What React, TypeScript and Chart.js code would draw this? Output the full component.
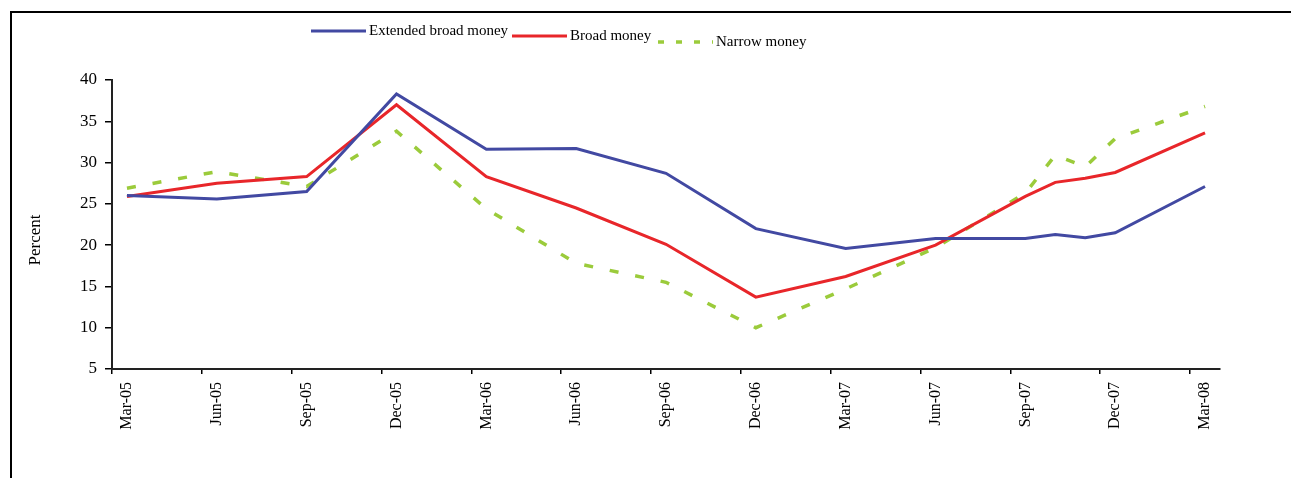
import React, { useEffect, useRef } from "react";
import { Chart, registerables } from "chart.js";

Chart.register(...registerables);

// All monthly categories on the x axis (Excel-style category axis)
const monthCategories = [
  "Mar-05", "Apr-05", "May-05", "Jun-05", "Jul-05", "Aug-05", "Sep-05", "Oct-05", "Nov-05", "Dec-05",
  "Jan-06", "Feb-06", "Mar-06", "Apr-06", "May-06", "Jun-06", "Jul-06", "Aug-06", "Sep-06", "Oct-06",
  "Nov-06", "Dec-06", "Jan-07", "Feb-07", "Mar-07", "Apr-07", "May-07", "Jun-07", "Jul-07", "Aug-07",
  "Sep-07", "Oct-07", "Nov-07", "Dec-07", "Jan-08", "Feb-08", "Mar-08",
];

// Tick labels shown (every quarter)
const tickLabels = [
  "Mar-05", "Jun-05", "Sep-05", "Dec-05", "Mar-06", "Jun-06", "Sep-06",
  "Dec-06", "Mar-07", "Jun-07", "Sep-07", "Dec-07", "Mar-08",
];

// Observation periods
const periods = [
  "Mar-05", "Jun-05", "Sep-05", "Dec-05", "Mar-06", "Jun-06", "Sep-06", "Dec-06",
  "Mar-07", "Jun-07", "Sep-07", "Oct-07", "Nov-07", "Dec-07", "Mar-08",
];

const extendedBroadMoney = [26.0, 25.6, 26.5, 38.3, 31.6, 31.7, 28.7, 22.0, 19.6, 20.8, 20.8, 21.3, 20.9, 21.5, 27.1];
const broadMoney = [25.9, 27.5, 28.3, 37.0, 28.3, 24.5, 20.1, 13.7, 16.2, 20.0, 25.9, 27.6, 28.1, 28.8, 33.6];
const narrowMoney = [26.9, 28.9, 27.1, 33.8, 24.4, 17.8, 15.5, 10.0, 14.7, 19.7, 26.3, 30.9, 29.5, 32.9, 36.8];

const seriesNames = ["Extended broad money", "Broad money", "Narrow money"];
const yAxisTitle = "Percent";

const FONT = "'Liberation Serif', 'Times New Roman', serif";

// legend item placement (Excel staggered legend)
const legendSpots = [
  { x: 311, y: 31 },
  { x: 512, y: 36 },
  { x: 658, y: 42 },
];

const decorPlugin = {
  id: "staggeredLegend",
  afterDraw(chart: any) {
    const ctx = chart.ctx;
    ctx.save();
    chart.data.datasets.forEach((ds: any, i: number) => {
      const p = legendSpots[i];
      ctx.beginPath();
      ctx.lineWidth = ds.borderWidth;
      ctx.strokeStyle = ds.borderColor;
      ctx.lineCap = "butt";
      ctx.setLineDash(ds.borderDash ? [6, 12] : []);
      ctx.moveTo(p.x, p.y);
      ctx.lineTo(p.x + 55, p.y);
      ctx.stroke();
      ctx.setLineDash([]);
      ctx.fillStyle = "#000";
      ctx.font = `15px ${FONT}`;
      ctx.textBaseline = "middle";
      ctx.textAlign = "left";
      ctx.fillText(ds.label, p.x + 58, p.y);
    });
    // y-axis title
    ctx.translate(36, 240);
    ctx.rotate(-Math.PI / 2);
    ctx.font = `17px ${FONT}`;
    ctx.textAlign = "center";
    ctx.textBaseline = "middle";
    ctx.fillStyle = "#000";
    ctx.fillText(yAxisTitle, 0, 0);
    ctx.restore();
  },
};

export default function App() {
  const ref = useRef<HTMLCanvasElement | null>(null);

  useEffect(() => {
    if (!ref.current) return;
    const toPoints = (vals: number[]) => periods.map((p, i) => ({ x: p, y: vals[i] }));
    const chart = new Chart(ref.current, {
      type: "line",
      data: {
        labels: monthCategories,
        datasets: [
          {
            label: seriesNames[0],
            data: toPoints(extendedBroadMoney),
            borderColor: "#4249A2",
            backgroundColor: "#4249A2",
            borderWidth: 3,
            pointRadius: 0,
            tension: 0,
          },
          {
            label: seriesNames[1],
            data: toPoints(broadMoney),
            borderColor: "#E8262A",
            backgroundColor: "#E8262A",
            borderWidth: 3,
            pointRadius: 0,
            tension: 0,
          },
          {
            label: seriesNames[2],
            data: toPoints(narrowMoney),
            borderColor: "#9BCB3B",
            backgroundColor: "#9BCB3B",
            borderWidth: 3.5,
            borderDash: [9, 17],
            pointRadius: 0,
            tension: 0,
          },
        ],
      },
      options: {
        responsive: false,
        animation: false,
        layout: { padding: { left: 0, top: 80, right: 71, bottom: 0 } },
        plugins: {
          legend: { display: false },
          tooltip: { enabled: false },
        },
        scales: {
          x: {
            type: "category",
            offset: true,
            afterFit: (scale: any) => {
              scale.height = 109;
            },
            grid: {
              offset: true,
              drawOnChartArea: false,
              drawTicks: true,
              tickLength: 5,
              lineWidth: 1.5,
              tickColor: (ctx: any) =>
                typeof ctx.index === "number" && ctx.index % 3 === 0 ? "#000" : "rgba(0,0,0,0)",
            },
            border: { display: true, color: "#222", width: 2 },
            ticks: {
              autoSkip: false,
              minRotation: 90,
              maxRotation: 90,
              padding: 8,
              color: "#000",
              font: { family: FONT, size: 16 },
              callback: (_v: any, i: number) =>
                tickLabels.includes(monthCategories[i]) ? monthCategories[i] : "",
            },
          },
          y: {
            min: 5,
            max: 40,
            afterFit: (scale: any) => {
              scale.width = 112;
            },
            grid: {
              drawOnChartArea: false,
              drawTicks: true,
              tickLength: 7,
              lineWidth: 1.5,
              color: "#000",
            },
            border: { display: true, color: "#222", width: 2 },
            ticks: {
              stepSize: 5,
              padding: 8,
              color: "#000",
              font: { family: FONT, size: 17 },
            },
          },
        },
      },
      plugins: [decorPlugin],
    });
    return () => chart.destroy();
  }, []);

  return (
    <div style={{ position: "fixed", left: 0, top: 0, width: 1291, height: 478, overflow: "hidden", background: "#fff" }}>
      <canvas ref={ref} width={1291} height={478} style={{ display: "block" }} />
      <div
        style={{
          position: "absolute",
          left: 10,
          top: 11,
          width: 1300,
          height: 500,
          borderTop: "2px solid #000",
          borderLeft: "2px solid #000",
          pointerEvents: "none",
        }}
      />
    </div>
  );
}
